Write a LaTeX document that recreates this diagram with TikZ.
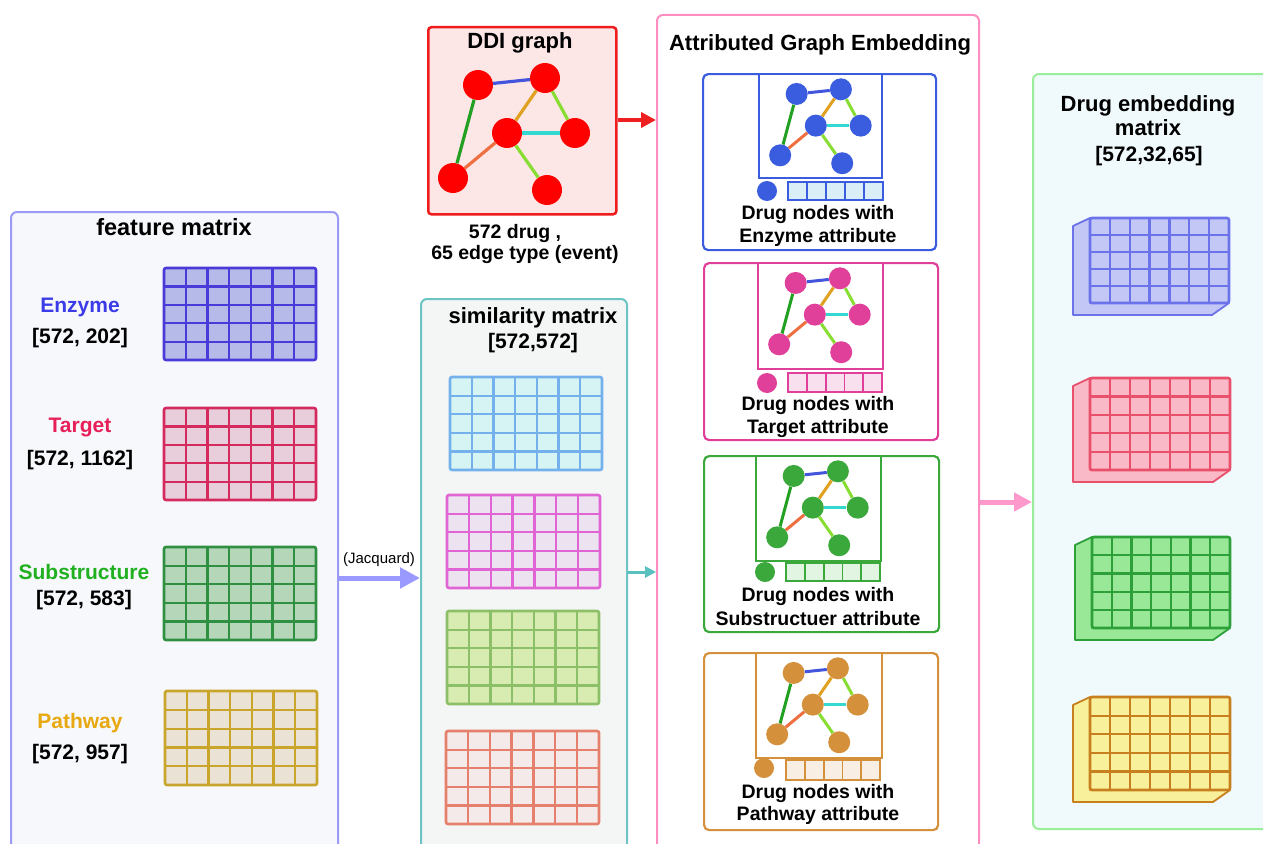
\documentclass[tikz,border=0pt]{standalone}
\usepackage{fontspec}
\setmainfont{Liberation Sans}
\usetikzlibrary{arrows.meta}
\definecolor{featB}{HTML}{9B9BF5}
\definecolor{featF}{HTML}{F7F8FC}
\definecolor{enzS}{HTML}{4A3AD8}\definecolor{enzF}{HTML}{B5BAE8}
\definecolor{tarS}{HTML}{D42A5E}\definecolor{tarF}{HTML}{E8CDDB}
\definecolor{subS}{HTML}{2E9040}\definecolor{subF}{HTML}{B5D6B8}
\definecolor{patS}{HTML}{C9A52C}\definecolor{patF}{HTML}{EBE2D6}
\definecolor{enzL}{HTML}{3B3BE8}\definecolor{tarL}{HTML}{E8205A}
\definecolor{subL}{HTML}{20B020}\definecolor{patL}{HTML}{E8A810}
\definecolor{simB}{HTML}{6CC4C4}\definecolor{simF}{HTML}{F4F6F6}
\definecolor{s1S}{HTML}{74B0EC}\definecolor{s1F}{HTML}{D6F4F4}
\definecolor{s2S}{HTML}{E064D4}\definecolor{s2F}{HTML}{ECE2F0}
\definecolor{s3S}{HTML}{8CC068}\definecolor{s3F}{HTML}{D8EBB0}
\definecolor{s4S}{HTML}{E4806C}\definecolor{s4F}{HTML}{F4EAEA}
\definecolor{ddiB}{HTML}{EE1C1C}\definecolor{ddiF}{HTML}{FDE6E6}
\definecolor{ddiN}{HTML}{FF0000}
\definecolor{agB}{HTML}{FF8EC0}
\definecolor{aEnz}{HTML}{3A5DE0}\definecolor{vEnz}{HTML}{DAEEF8}
\definecolor{aTar}{HTML}{E0409A}\definecolor{vTar}{HTML}{F8E0EE}
\definecolor{aSub}{HTML}{3AA83A}\definecolor{vSub}{HTML}{E2F5E2}
\definecolor{aPat}{HTML}{D4903A}\definecolor{vPat}{HTML}{F8EEE4}
\definecolor{embB}{HTML}{99EE99}\definecolor{embF}{HTML}{F0FAFD}
\definecolor{b1S}{HTML}{6B72EA}\definecolor{b1F}{HTML}{C3C7F5}
\definecolor{b2S}{HTML}{E8506C}\definecolor{b2F}{HTML}{F9B9C6}
\definecolor{b3S}{HTML}{2EA03A}\definecolor{b3F}{HTML}{98E898}
\definecolor{b4S}{HTML}{C8801E}\definecolor{b4F}{HTML}{F8F09A}
\definecolor{eBlue}{HTML}{4455DD}\definecolor{eGreen}{HTML}{22A022}
\definecolor{eOrange}{HTML}{E0A020}\definecolor{eLime}{HTML}{88DD33}
\definecolor{eCyan}{HTML}{33D8D0}\definecolor{eRed}{HTML}{EE7040}
\definecolor{jqC}{HTML}{9999FF}\definecolor{tlC}{HTML}{5ABFBF}
\definecolor{pkC}{HTML}{FF99CC}\definecolor{rdC}{HTML}{EE2020}

\newcommand\mgrid[6]{%
  \fill[#5, rounded corners=2pt] (#1,#2) rectangle (#3,#4);
  \foreach \i in {1,...,6}{\draw[#6, line width=2.2pt] ({#1+(#3-#1)*\i/7},#2) -- ({#1+(#3-#1)*\i/7},#4);}
  \foreach \j in {1,...,4}{\draw[#6, line width=2.2pt] (#1,{#2+(#4-#2)*\j/5}) -- (#3,{#2+(#4-#2)*\j/5});}
  \draw[#6, line width=2.6pt, rounded corners=2pt] (#1,#2) rectangle (#3,#4);
}
\newcommand\mblock[6]{%
  \filldraw[fill=#5, draw=#6, line width=1.8pt, line join=round] (#1,#2) -- ++(-17,8) -- (#1-17,#4+12) -- (#3-17,#4+12) -- (#3,#4) -- (#1,#4) -- cycle;
  \mgrid{#1}{#2}{#3}{#4}{#5}{#6}
}
\newcommand\attrvec[6]{%
  \filldraw[fill=#6, draw=#5, line width=2pt] (#1,#2) rectangle (#3,#4);
  \foreach \i in {1,...,4}{\draw[#5, line width=1.8pt] ({#1+(#3-#1)*\i/5},#2) -- ({#1+(#3-#1)*\i/5},#4);}
}
\newcommand\ddigraph[7]{%
  \begin{scope}[shift={(#2,#3)}, scale=#4]
    \node[gnode, fill=#5, minimum size=#6] (#1a) at (51,59) {};
    \node[gnode, fill=#5, minimum size=#6] (#1b) at (118,52) {};
    \node[gnode, fill=#5, minimum size=#6] (#1c) at (80,107) {};
    \node[gnode, fill=#5, minimum size=#6] (#1d) at (148,107) {};
    \node[gnode, fill=#5, minimum size=#6] (#1e) at (26,152) {};
    \node[gnode, fill=#5, minimum size=#6] (#1f) at (120,164) {};
  \end{scope}
  \begin{scope}[line width=#7]
    \draw[eBlue] (#1a) -- (#1b);
    \draw[eGreen] (#1a) -- (#1e);
    \draw[eOrange] (#1b) -- (#1c);
    \draw[eLime] (#1b) -- (#1d);
    \draw[eCyan] (#1c) -- (#1d);
    \draw[eRed] (#1c) -- (#1e);
    \draw[eLime] (#1c) -- (#1f);
  \end{scope}
}

\begin{document}
\begin{tikzpicture}[x=1pt,y=-1pt,
  ttl/.style={font=\bfseries\fontsize{22}{26}\selectfont, inner sep=0pt},
  lbl/.style={font=\bfseries\fontsize{21}{25}\selectfont, inner sep=0pt},
  captxt/.style={font=\bfseries\fontsize{19.5}{23}\selectfont, inner sep=0pt},
  gnode/.style={circle, inner sep=0pt, draw=none},
  bigbox/.style={draw, rounded corners=6pt, line width=2pt, anchor=north west, inner sep=0pt},
  abox/.style={draw, rounded corners=5pt, line width=2.2pt, anchor=north west, inner sep=0pt, fill=white},
  gframe/.style={draw, line width=2.4pt, anchor=north west, inner sep=0pt, fill=white},
  fatarrow/.style={-{Triangle[length=#1, width=#1]}}
]
\useasboundingbox (0,0) rectangle (1263,843);
\fill[white] (0,0) rectangle (1263,843);
\clip (0,0) rectangle (1263,843);

% ---------------- feature matrix
\node[bigbox, draw=featB, fill=featF, minimum width=327pt, minimum height=660pt] (feat) at (10,211) {};
\node[ttl, font=\bfseries\fontsize{23.5}{27}\selectfont] (featT) at (174,227) {feature matrix};
\node[lbl, text=enzL] (enzN) at (80,307) {Enzyme};
\node[lbl] (enzD) at (80,338) {[572, 202]};
\node[lbl, text=tarL] (tarN) at (80,427) {Target};
\node[lbl] (tarD) at (80,460) {[572, 1162]};
\node[lbl, text=subL] (subN) at (84,572) {Substructure};
\node[lbl] (subD) at (84,600) {[572, 583]};
\node[lbl, text=patL] (patN) at (80,723) {Pathway};
\node[lbl] (patD) at (80,754) {[572, 957]};
\mgrid{164}{268}{316}{360}{enzF}{enzS}
\mgrid{164}{408}{316}{500}{tarF}{tarS}
\mgrid{164}{547}{316}{640}{subF}{subS}
\mgrid{165}{691}{317}{785}{patF}{patS}

% ---------------- similarity matrix
\node[bigbox, draw=simB, fill=simF, minimum width=206pt, minimum height=600pt] (sim) at (420,298) {};
\node[ttl] (simT) at (533,318) {similarity matrix};
\node[lbl] (simD) at (533,343) {[572,572]};
\mgrid{450}{377}{602}{470}{s1F}{s1S}
\mgrid{447}{495}{600}{588}{s2F}{s2S}
\mgrid{447}{611}{599}{704}{s3F}{s3S}
\mgrid{446}{731}{599}{824}{s4F}{s4S}

% ---------------- DDI graph
\node[draw=ddiB, fill=ddiF, line width=2.5pt, rounded corners=3pt, anchor=north west, inner sep=0pt, minimum width=188pt, minimum height=187pt] (ddi) at (427,26) {};
\node[ttl] (ddiT) at (520,43) {DDI graph};
\ddigraph{d}{427}{26}{1}{ddiN}{30pt}{3.2pt}
\node[captxt] (ddiC1) at (515,233) {572 drug ,};
\node[captxt] (ddiC2) at (525,254) {65 edge type (event)};

% ---------------- attributed graph embedding
\node[bigbox, draw=agB, fill=white, minimum width=322pt, minimum height=900pt] (age) at (656,14) {};
\node[ttl] (ageT) at (820,45) {Attributed Graph Embedding};

% enzyme
\node[abox, draw=aEnz, minimum width=233pt, minimum height=176pt] (bEnz) at (702,73) {};
\node[gframe, draw=aEnz, minimum width=123pt, minimum height=104pt] (fEnz) at (758,73) {};
\ddigraph{ge}{763}{55}{0.66}{aEnz}{22pt}{3pt}
\node[gnode, fill=aEnz, minimum size=20pt] (cEnz) at (767,191) {};
\attrvec{788}{182}{883}{200}{aEnz}{vEnz}
\node[captxt] (tEnz1) at (818,214) {Drug nodes with};
\node[captxt] (tEnz2) at (818,237) {Enzyme attribute};

% target
\node[abox, draw=aTar, minimum width=234pt, minimum height=177pt] (bTar) at (703,262) {};
\node[gframe, draw=aTar, minimum width=125pt, minimum height=106pt] (fTar) at (757,262) {};
\ddigraph{gt}{762}{244}{0.66}{aTar}{22pt}{3pt}
\node[gnode, fill=aTar, minimum size=20pt] (cTar) at (767,383) {};
\attrvec{788}{373}{882}{392}{aTar}{vTar}
\node[captxt] (tTar1) at (818,405) {Drug nodes with};
\node[captxt] (tTar2) at (818,428) {Target attribute};

% substructure
\node[abox, draw=aSub, minimum width=235pt, minimum height=176pt] (bSub) at (703,455) {};
\node[gframe, draw=aSub, minimum width=125pt, minimum height=105pt] (fSub) at (755,455) {};
\ddigraph{gs}{760}{437}{0.66}{aSub}{22pt}{3pt}
\node[gnode, fill=aSub, minimum size=20pt] (cSub) at (765,572) {};
\attrvec{786}{563}{880}{581}{aSub}{vSub}
\node[captxt] (tSub1) at (818,596) {Drug nodes with};
\node[captxt] (tSub2) at (818,619) {Substructuer attribute};

% pathway
\node[abox, draw=aPat, minimum width=234pt, minimum height=177pt] (bPat) at (703,652) {};
\node[gframe, draw=aPat, minimum width=126pt, minimum height=105pt] (fPat) at (755,652) {};
\ddigraph{gp}{760}{634}{0.66}{aPat}{22pt}{3pt}
\node[gnode, fill=aPat, minimum size=20pt] (cPat) at (764,768) {};
\attrvec{786}{760}{880}{780}{aPat}{vPat}
\node[captxt] (tPat1) at (818,793) {Drug nodes with};
\node[captxt] (tPat2) at (818,815) {Pathway attribute};

% ---------------- drug embedding matrix
\node[bigbox, draw=embB, fill=embF, minimum width=260pt, minimum height=755pt] (emb) at (1032,73) {};
\node[ttl] (embT1) at (1148,106) {Drug embedding};
\node[ttl] (embT2) at (1148,128) {matrix};
\node[lbl] (embD) at (1149,156) {[572,32,65]};
\mblock{1090}{218}{1229}{303}{b1F}{b1S}
\mblock{1090}{378}{1230}{470}{b2F}{b2S}
\mblock{1092}{537}{1230}{628}{b3F}{b3S}
\mblock{1090}{697}{1230}{790}{b4F}{b4S}

% ---------------- arrows
\coordinate (yJq) at (0,578);
\coordinate (yTl) at (0,572);
\coordinate (yRd) at (0,120);
\coordinate (yPk) at (0,502);
\draw[jqC, line width=5pt, fatarrow=20pt] (feat.east |- yJq) -- (sim.west |- yJq);
\node[font=\fontsize{15}{17}\selectfont, inner sep=0pt] (jqT) at (379,560) {(Jacquard)};
\draw[tlC, line width=3pt, fatarrow=11pt] (sim.east |- yTl) -- (age.west |- yTl);
\draw[rdC, line width=4pt, fatarrow=15pt] (ddi.east |- yRd) -- (age.west |- yRd);
\draw[pkC, line width=5pt, fatarrow=18pt] (age.east |- yPk) -- (emb.west |- yPk);
\end{tikzpicture}
\end{document}
